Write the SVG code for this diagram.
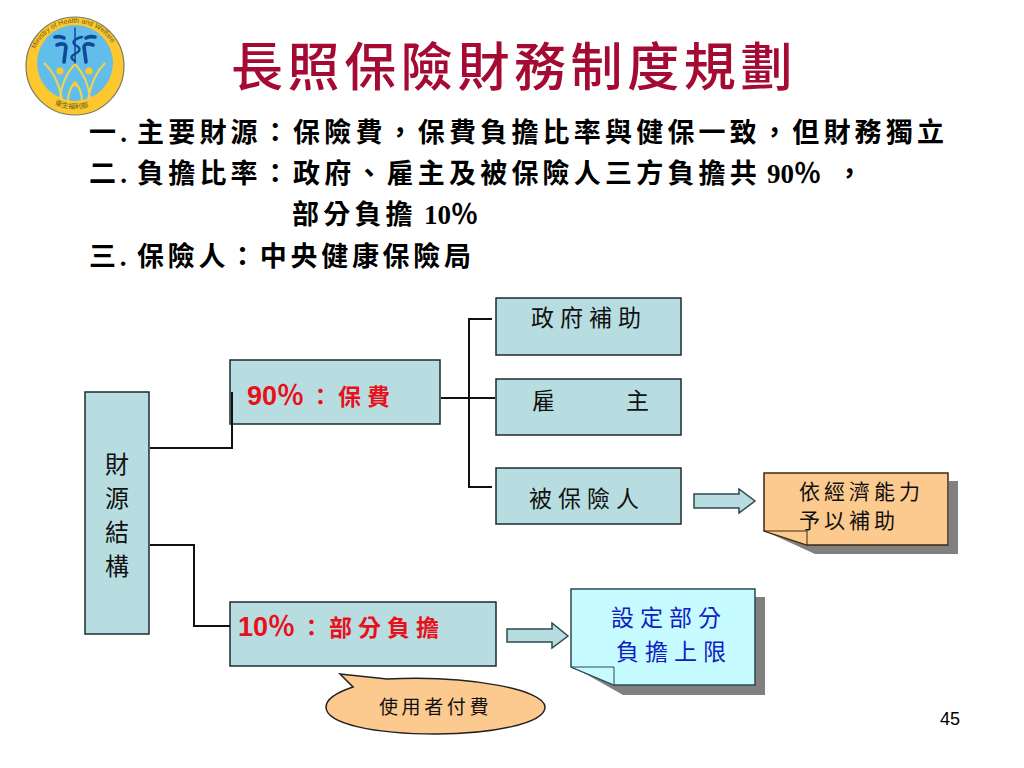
<svg xmlns="http://www.w3.org/2000/svg" width="1024" height="768" viewBox="0 0 1024 768">
<style>
text{font-family:"Liberation Serif","Noto Sans CJK TC",serif;fill:#000}
.b{font-weight:700;font-size:27px;letter-spacing:4.2px}
.l{letter-spacing:0}
.n{font-family:"Noto Sans CJK TC",sans-serif;font-size:23px;letter-spacing:6px;fill:#111}
.v{font-size:24px}
.s{font-size:21px;letter-spacing:4px}
.blue{fill:#1020c0}
.r{font-family:"Liberation Sans","Noto Sans CJK TC",sans-serif;font-weight:700;fill:#e8101a;font-size:27px}
.rc{font-size:23px;letter-spacing:6px}
.box{fill:#b8dde1;stroke:#1c2a30;stroke-width:1.5}
.line{fill:none;stroke:#111;stroke-width:2}
.arrow{fill:#b8dde1;stroke:#2c4a50;stroke-width:1.5}
.shadow{fill:#808080}
.logo-en{font-family:"Liberation Sans",sans-serif;fill:#6a5a20;font-size:7px}
.logo-zh{font-family:"Noto Sans CJK TC",sans-serif;fill:#6a5a20;font-size:7px}
</style>
<defs>
<path id="lt" d="M35 50A43 43 0 0 1 115 50"/>
<path id="lb" d="M52 103Q75 115 98 103"/>
</defs>
<g id="logo">
<circle cx="75" cy="66" r="49" fill="#fdc82f" stroke="#7a7a60" stroke-width="1.2"/>
<circle cx="75" cy="63" r="38" fill="#62bdea"/>
<text class="logo-en"><textPath href="#lt" startOffset="1">Ministry of Health and Welfare</textPath></text>
<text class="logo-zh"><textPath href="#lb" startOffset="3">衛生福利部</textPath></text>
<g fill="none" stroke="#12489a" stroke-width="3.6" stroke-linecap="round">
<path d="M55 37Q61 36 64 38"/><path d="M95 37Q89 36 86 38"/>
<path d="M57 45Q65 42 66 47Q65 54 64 62"/><path d="M93 45Q85 42 84 47Q85 54 86 62"/>
<path d="M75 28V64" stroke-width="1.5"/>
<path d="M82 37Q70 40 75 45Q84 49 75 54Q68 57 75 61" stroke-width="2.4"/>
</g>
<g fill="none" stroke="#f4d24a" stroke-width="2">
<path d="M44 63Q58 76 62 100M105 63Q92 76 88 100M75 64Q62 78 60 98M75 64Q88 78 90 98M75 82Q68 90 68 102M75 82Q82 90 82 102"/>
</g>
<circle cx="60" cy="71" r="3.6" fill="#fdc82f"/><circle cx="89" cy="71" r="3.6" fill="#fdc82f"/><circle cx="75" cy="84" r="2.6" fill="#fdc82f"/>
</g>
<text id="title" x="231" y="86" font-size="52" letter-spacing="4.6" style="fill:#a50a32;font-family:'Noto Sans CJK TC',sans-serif;font-weight:500">長照保險財務制度規劃</text>
<g id="body">
<text class="b" y="142"><tspan x="89">一.</tspan><tspan x="137">主要財源：保險費，保費負擔比率與健保一致，但財務獨立</tspan></text>
<text class="b" y="183"><tspan x="89">二.</tspan><tspan x="137">負擔比率：政府、雇主及被保險人三方負擔共</tspan><tspan x="767" class="l">90％</tspan><tspan x="836">，</tspan></text>
<text class="b" y="224"><tspan x="292">部分負擔</tspan><tspan x="424" class="l">10％</tspan></text>
<text class="b" y="266" style="letter-spacing:3.7px"><tspan x="89">三.</tspan><tspan x="137">保險人：中央健康保險局</tspan></text>
</g>
<g id="n-source"><rect class="box" x="85" y="392" width="64" height="242"/>
<text class="n v" x="105" y="473">財</text><text class="n v" x="105" y="507">源</text><text class="n v" x="105" y="541">結</text><text class="n v" x="105" y="575">構</text></g>
<g id="n-90"><rect class="box" x="230" y="360" width="210" height="64"/>
<text class="r" y="405"><tspan x="247">90％</tspan><tspan x="309" class="rc">：保費</tspan></text></g>
<g id="n-gov"><rect class="box" x="496" y="298" width="185" height="57"/><text class="n" x="531" y="326">政府補助</text></g>
<g id="n-emp"><rect class="box" x="496" y="379" width="185" height="56"/><text class="n" x="532" y="409">雇</text><text class="n" x="626" y="409">主</text></g>
<g id="n-ins"><rect class="box" x="496" y="468" width="185" height="56"/><text class="n" x="529" y="507">被保險人</text></g>
<g id="n-aid">
<path class="shadow" d="M769 533L815 554H958V481H949V545H807Z"/>
<path d="M764 473H948V545H807L764 531Z" fill="#fcc98e" stroke="#3a2a10" stroke-width="1.5"/>
<path d="M764 531H807V545Z" fill="#fcc98e" stroke="#3a2a10" stroke-width="1"/>
<text class="n s" x="799" y="499">依經濟能力</text><text class="n s" x="799" y="528">予以補助</text></g>
<g id="n-10"><rect class="box" x="230" y="602" width="266" height="64"/>
<text class="r" y="636"><tspan x="238">10％</tspan><tspan x="300" class="rc">：部分負擔</tspan></text></g>
<g id="n-limit">
<path class="shadow" d="M577 669L623 695H765V597H755V685H614Z"/>
<path d="M571 589H755V685H614L571 667Z" fill="#c6fbff" stroke="#2c4a50" stroke-width="1.5"/>
<path d="M571 667H614V685Z" fill="#c6fbff" stroke="#2c4a50" stroke-width="1"/>
<text class="n blue" x="611" y="626">設定部分</text><text class="n blue" x="616" y="660">負擔上限</text></g>
<g id="n-user">
<path d="M340 674L387 679C470 675 545 690 545 707C545 724 490 734 436 734C375 734 326 724 326 707C326 698 338 692 353 687Z" fill="#fcc98e" stroke="#222" stroke-width="1.5"/>
<text class="n" x="379" y="714" style="font-size:19px;letter-spacing:3.6px">使用者付費</text></g>
<g id="connectors">
<path class="line" d="M150 448H232V392"/>
<path class="line" d="M150 545H194V626H230"/>
<path class="line" d="M441 398H495"/>
<path class="line" d="M492 319H469V487H492"/>
<path class="arrow" d="M694 494H739V489L755 501L739 513V508H694Z"/>
<path class="arrow" d="M507 629H552V623L568 636L552 648V642H507Z"/>
</g>
<text id="page" x="940" y="725" font-size="18" style="font-family:'Liberation Sans',sans-serif">45</text>
</svg>
